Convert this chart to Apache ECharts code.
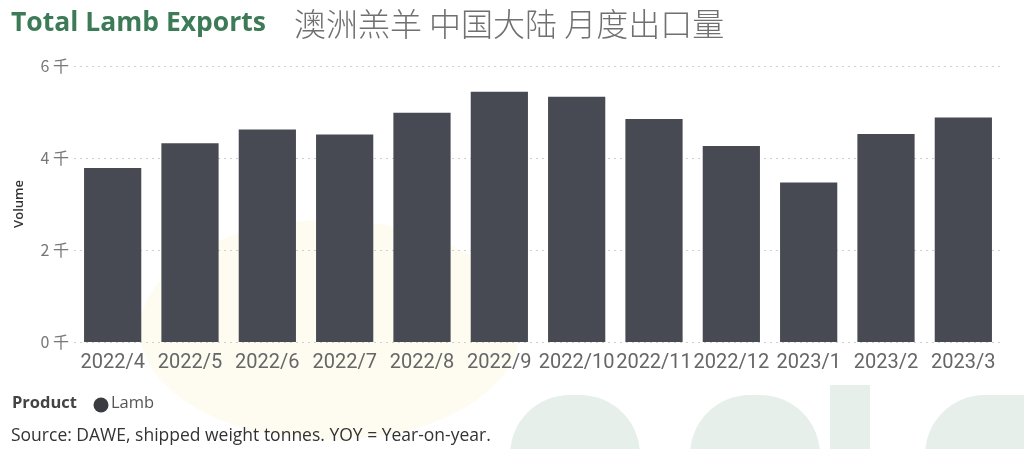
<!DOCTYPE html>
<html><head><meta charset="utf-8">
<script src="https://cdn.jsdelivr.net/npm/echarts@6/dist/echarts.min.js"></script>
<style>html,body{margin:0;padding:0;background:#fff;}#c{width:1024px;height:449px;}</style>
</head><body><div id="c"></div>
<script>
const categories = ['2022/4','2022/5','2022/6','2022/7','2022/8','2022/9','2022/10','2022/11','2022/12','2023/1','2023/2','2023/3'];
const lambValues = [3780, 4320, 4620, 4510, 4985, 5440, 5330, 4850, 4260, 3470, 4520, 4880];
const yTicks = [0, 2000, 4000, 6000];
const titleMain = 'Total Lamb Exports';
const titleSub = '澳洲羔羊 中国大陆 月度出口量';

const chart = echarts.init(document.getElementById('c'), null, {renderer:'canvas'});
chart.setOption({
  backgroundColor: '#ffffff',
  animation: false,
  graphic: [
    {type:'ellipse', z:-10, shape:{cx:330, cy:330, rx:190, ry:110}, style:{fill:'rgba(250,235,180,0.18)'}},
    {type:'rect', z:-10, shape:{x:510, y:395, width:130, height:60, r:[60,60,0,0]}, style:{fill:'#e6efea'}},
    {type:'rect', z:-10, shape:{x:690, y:395, width:130, height:60, r:[60,60,0,0]}, style:{fill:'#e6efea'}},
    {type:'rect', z:-10, shape:{x:830, y:385, width:40, height:70}, style:{fill:'#e6efea'}},
    {type:'rect', z:-10, shape:{x:925, y:395, width:110, height:60, r:[60,0,0,0]}, style:{fill:'#e6efea'}},
    {type:'text', left:11, top:10, style:{text:titleMain, fontFamily:'Open Sans', fontWeight:'bold', fontSize:26.5, fill:'#3d7a57'}},
    {type:'text', left:294, top:8, style:{text:titleSub, fontFamily:'Noto Sans CJK SC', fontWeight:300, fontSize:32, fill:'#707070'}},
    {type:'text', left:12, top:395, style:{text:'Product', fontFamily:'Open Sans', fontWeight:'bold', fontSize:16.5, fill:'#444'}},
    {type:'circle', shape:{cx:101, cy:405, r:7.5}, style:{fill:'#3a3c42'}},
    {type:'text', left:111, top:395, style:{text:'Lamb', fontFamily:'Open Sans', fontSize:16.5, fill:'#555'}},
    {type:'text', left:11, top:427, style:{text:'Source: DAWE, shipped weight tonnes. YOY = Year-on-year.', fontFamily:'Open Sans', fontSize:17.5, fill:'#333'}}
  ],
  grid: {left:74, right:22, top:66, bottom:107, containLabel:false},
  xAxis: {
    type:'category', data:categories,
    axisLine:{show:false}, axisTick:{show:false},
    axisLabel:{color:'#666', fontSize:20, fontFamily:'Roboto', margin:11, interval:0}
  },
  yAxis: {
    type:'value', min:0, max:6000, interval:2000,
    name:'Volume', nameLocation:'middle', nameGap:48, nameRotate:90,
    nameTextStyle:{color:'#333', fontSize:13, fontFamily:'Open Sans', fontWeight:600},
    axisLine:{show:false}, axisTick:{show:false},
    axisLabel:{color:'#777', fontSize:16, fontFamily:'Noto Sans CJK SC', margin:5,
      formatter: v => yTicks.includes(v) ? (v/1000) + ' 千' : ''},
    splitLine:{show:true, lineStyle:{color:'#cfcfcf', type:[2,4], width:1}}
  },
  series: [{
    name:'Lamb', type:'bar', data:lambValues, barCategoryGap:'26%',
    itemStyle:{color:'#474a52'}
  }]
});
</script></body></html>
